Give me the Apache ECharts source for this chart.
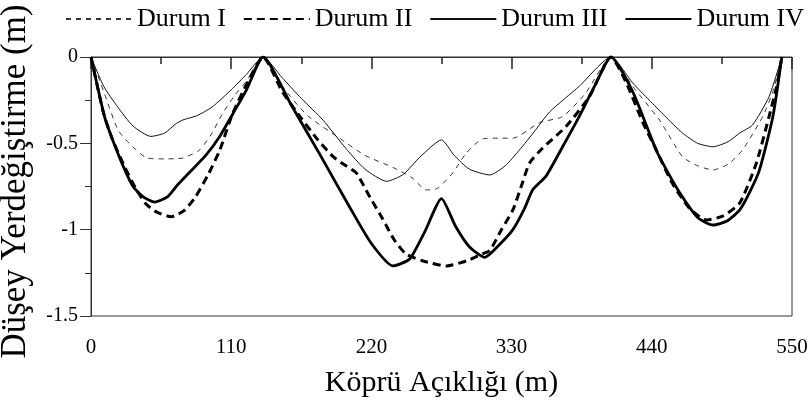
<!DOCTYPE html>
<html>
<head>
<meta charset="utf-8">
<script src="https://cdn.jsdelivr.net/npm/echarts@6/dist/echarts.min.js"></script>
<style>
  html, body { margin: 0; padding: 0; background: #fff; }
  #chart { width: 810px; height: 403px; }
</style>
</head>
<body>
<div id="chart"></div>
<script>
// x = span position (m), y = vertical displacement (m)
const durum1 = [
  [0, 0], [10, -0.2], [21, -0.42], [30, -0.5], [44, -0.585], [58, -0.59], [72, -0.585], [85, -0.54],
  [95, -0.44], [103, -0.33], [113, -0.22], [122, -0.14], [135, 0],
  [150, -0.17], [170, -0.34], [195, -0.47], [215, -0.57], [237, -0.64], [252, -0.7], [263, -0.77],
  [272, -0.76], [284, -0.67], [294, -0.56], [307, -0.475], [320, -0.47], [331, -0.47], [352, -0.38],
  [370, -0.345], [388, -0.21], [408, 0],
  [425, -0.17], [446, -0.365], [464, -0.577], [476, -0.63], [488, -0.654], [500, -0.62], [511, -0.54],
  [527, -0.345], [535, -0.2], [542, 0]
]
const durum2 = [
  [0, 0], [10, -0.33], [17, -0.48], [26, -0.63], [35, -0.76], [43, -0.85], [52, -0.9], [63, -0.925],
  [73, -0.89], [82, -0.81], [92, -0.68], [101, -0.54], [111, -0.33], [124, -0.13], [135, 0],
  [150, -0.2], [164, -0.345], [178, -0.48], [190, -0.577], [200, -0.63], [208, -0.67], [218, -0.8],
  [229, -0.94], [238, -1.06], [247, -1.14], [260, -1.18], [279, -1.21], [295, -1.18], [307, -1.14],
  [313, -1.12], [322, -1.0], [331, -0.886], [338, -0.74], [344, -0.615], [354, -0.53], [373, -0.4],
  [391, -0.23], [408, 0],
  [420, -0.15], [433, -0.38], [443, -0.53], [456, -0.73], [470, -0.88], [483, -0.944], [496, -0.92],
  [509, -0.846], [522, -0.615], [532, -0.345], [538, -0.17], [542, 0]
]
const durum3 = [
  [0, 0], [10, -0.17], [21, -0.29], [33, -0.4], [47, -0.46], [58, -0.44], [66, -0.39], [72, -0.365],
  [83, -0.34], [95, -0.29], [110, -0.19], [122, -0.1], [135, 0],
  [150, -0.12], [165, -0.24], [182, -0.365], [200, -0.53], [215, -0.65], [232, -0.72], [245, -0.68],
  [258, -0.58], [275, -0.48], [285, -0.57], [297, -0.65], [313, -0.683], [325, -0.63], [336, -0.54],
  [348, -0.43], [360, -0.317], [383, -0.17], [408, 0],
  [425, -0.15], [438, -0.25], [450, -0.34], [464, -0.44], [476, -0.5], [488, -0.52], [500, -0.49],
  [509, -0.44], [519, -0.394], [532, -0.23], [542, 0]
]
const durum4 = [
  [0, 0], [10.6, -0.345], [17, -0.48], [26, -0.645], [33, -0.75], [41, -0.81], [50, -0.84], [60, -0.81],
  [68, -0.74], [77, -0.67], [90, -0.57], [101, -0.46], [112, -0.32], [122, -0.19], [135, 0],
  [158, -0.29], [180, -0.57], [203, -0.87], [220, -1.08], [237, -1.21], [250, -1.17], [262, -1.01],
  [275, -0.82], [286, -0.98], [297, -1.1], [309, -1.16], [320, -1.09], [331, -1.0], [340, -0.88],
  [346.5, -0.77], [357, -0.69], [370, -0.52], [383, -0.345], [395, -0.17], [408, 0],
  [425, -0.2], [443.5, -0.54], [455, -0.7], [464, -0.81], [476, -0.93], [488, -0.973], [499, -0.95],
  [509, -0.886], [517, -0.78], [524.5, -0.654], [535, -0.345], [542, 0]
]
const seriesNames = ['Durum I', 'Durum II', 'Durum III', 'Durum IV']

const serif = '"Liberation Serif", "DejaVu Serif", serif'
const chart = echarts.init(document.getElementById('chart'))

const makeLine = (name, data, width, type, color) => ({
  name: name,
  type: 'line',
  data: data,
  symbol: 'none',
  smooth: 0.2,
  lineStyle: { width: width, type: type, color: color },
  itemStyle: { color: color }
})

const option = {
  animation: false,
  backgroundColor: '#fff',
  legend: {
    left: 60,
    top: 1,
    width: 800,
    itemWidth: 66,
    itemHeight: 14,
    itemGap: 17,
    itemStyle: { opacity: 0 },
    textStyle: { fontFamily: serif, fontSize: 26, color: '#000' },
    data: seriesNames
  },
  grid: {
    left: 91,
    right: 18,
    top: 57,
    bottom: 87,
    outerBoundsMode: 'none',
    show: true,
    borderColor: '#333',
    borderWidth: 1
  },
  xAxis: {
    type: 'value',
    min: 0,
    max: 550,
    interval: 110,
    name: 'Köprü Açıklığı (m)',
    nameLocation: 'middle',
    nameGap: 52,
    nameTextStyle: { fontFamily: serif, fontSize: 30, color: '#000' },
    axisLine: { lineStyle: { color: '#333' } },
    axisTick: { length: 12, lineStyle: { color: '#222', width: 1.5 } },
    minorTick: { show: true, splitNumber: 2, length: 7, lineStyle: { color: '#222', width: 1.5 } },
    axisLabel: { fontFamily: serif, fontSize: 21, color: '#000', margin: 21 },
    splitLine: { show: false }
  },
  yAxis: {
    type: 'value',
    min: -1.5,
    max: 0,
    interval: 0.5,
    name: 'Düşey Yerdeğiştirme (m)',
    nameLocation: 'middle',
    nameGap: 58,
    nameTextStyle: { fontFamily: serif, fontSize: 35, color: '#000', padding: [0, 0, 0, 10] },
    axisLine: { show: true, lineStyle: { color: '#333' } },
    axisTick: { length: 11, lineStyle: { color: '#333' } },
    minorTick: { show: true, splitNumber: 2, length: 6, lineStyle: { color: '#333' } },
    axisLabel: { fontFamily: serif, fontSize: 20, color: '#000', margin: 13 },
    splitLine: { show: false }
  },
  series: [
    makeLine(seriesNames[0], durum1, 1, [5, 5], '#333'),
    makeLine(seriesNames[1], durum2, 3, [8, 5], '#000'),
    makeLine(seriesNames[2], durum3, 1, 'solid', '#111'),
    makeLine(seriesNames[3], durum4, 2.8, 'solid', '#000')
  ]
}

chart.setOption(option)
</script>
</body>
</html>
